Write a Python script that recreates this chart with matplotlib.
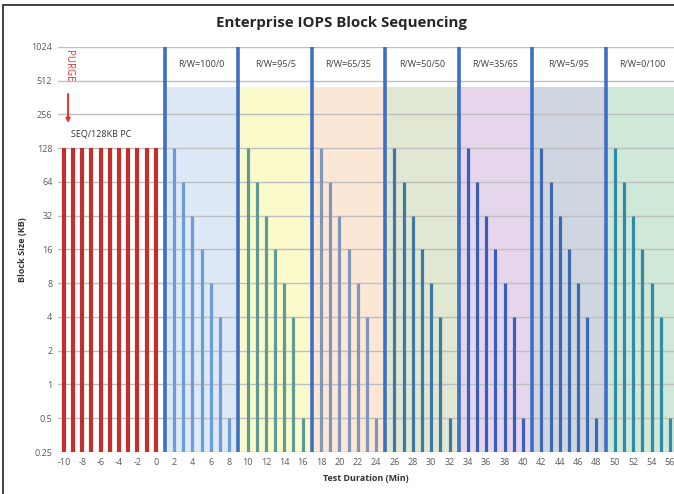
import matplotlib
matplotlib.use("Agg")
import matplotlib.pyplot as plt
from matplotlib.patches import Rectangle
import numpy as np

# precondition (sequential 128KB) phase
precond_minutes = list(range(-10, 1))
precond_block_kb = [128] * len(precond_minutes)

# each R/W mix runs one pass through these block sizes
block_sizes_kb = [128, 64, 32, 16, 8, 4, 0.5]
rw_mixes = ["100/0", "95/5", "65/35", "50/50", "35/65", "5/95", "0/100"]
separator_kb = 1024
band_top_kb = 450

bar_colors = ["#6d9cd9", "#5f9b96", "#8196bb", "#3f78a8", "#3b5dc0", "#3c69b3", "#2f8ba6"]
band_colors = ["#dde9f6", "#fbfacb", "#fce6d6", "#e0e8d2", "#e5d6ec", "#cfd6e1", "#cfe8d8"]
sep_color = "#3f6fc4"
red = "#c2302b"

yticks = [0.25, 0.5, 1, 2, 4, 8, 16, 32, 64, 128, 256, 512, 1024]
ytick_labels = ["0.25", "0.5", "1", "2", "4", "8", "16", "32", "64", "128", "256", "512", "1024"]
xticks = list(range(-10, 57, 2))

plt.rcParams["font.family"] = ["Open Sans", "DejaVu Sans"]
plt.rcParams["axes.unicode_minus"] = False

fig = plt.figure(figsize=(6.74, 4.94), dpi=100)
ax = fig.add_axes([0.086, 0.085, 0.914, 0.82])
ax.set_yscale("log", base=2)
ax.set_ylim(0.25, 1024)
ax.set_xlim(-10.65, 56.45)

ymin = 0.25
seg_len = len(block_sizes_kb) + 1
x_end = ax.get_xlim()[1]

for i, mix in enumerate(rw_mixes):
    start = 1 + i * seg_len
    stop = start + seg_len if i < len(rw_mixes) - 1 else x_end
    ax.add_patch(Rectangle((start, ymin), stop - start, band_top_kb - ymin,
                           facecolor=band_colors[i], edgecolor="none", zorder=0))
    xs = np.arange(start + 1, start + seg_len)
    ax.vlines(xs, ymin, block_sizes_kb, color=bar_colors[i], linewidth=2.3, zorder=3)
    ax.vlines(start, ymin, separator_kb, color=sep_color, linewidth=2.6, zorder=4)
    ax.text(start + seg_len / 2, 720, "R/W=" + mix, ha="center", va="center",
            fontsize=6.5, color="#404040", zorder=5)

ax.vlines(precond_minutes, ymin, precond_block_kb, color=red, linewidth=3.0, zorder=3)

# horizontal grid at every power of two
for y in yticks:
    ax.axhline(y, color="#bfbfbf", linewidth=1.0, zorder=1)

ax.text(-9.55, 690, "PURGE", rotation=-90, ha="center", va="center",
        fontsize=7, color="#e8322e", zorder=5)
ax.annotate("", xy=(-9.55, 215), xytext=(-9.55, 390),
            arrowprops=dict(arrowstyle="-|>", color="#e8322e", lw=1.4,
                            mutation_scale=6, shrinkA=0, shrinkB=0), zorder=5)
ax.text(-6.0, 172, "SEQ/128KB PC", ha="center", va="center",
        fontsize=6.5, color="#333333", zorder=5)

ax.set_yticks(yticks)
ax.set_yticklabels(ytick_labels)
ax.yaxis.set_minor_locator(matplotlib.ticker.NullLocator())
ax.set_xticks(xticks)
ax.tick_params(axis="both", length=0, labelsize=6.5, labelcolor="#595959", pad=4)
for s in ax.spines.values():
    s.set_visible(False)

ax.set_ylabel("Block Size (KB)", fontsize=6.5, fontweight="bold", color="#333333", labelpad=3)
ax.set_xlabel("Test Duration (Min)", fontsize=6.5, fontweight="bold", color="#333333", labelpad=5)
fig.suptitle("Enterprise IOPS Block Sequencing", x=0.506, y=0.968, fontsize=10.8,
             fontweight="bold", color="#262626")

# thin outer frame
fig.add_artist(Rectangle((3 / 674, -0.05), 2, (494 - 5) / 494 + 0.05,
                         transform=fig.transFigure, fill=False,
                         edgecolor="#222222", linewidth=1.2))

fig.savefig("out.png", dpi=100)
